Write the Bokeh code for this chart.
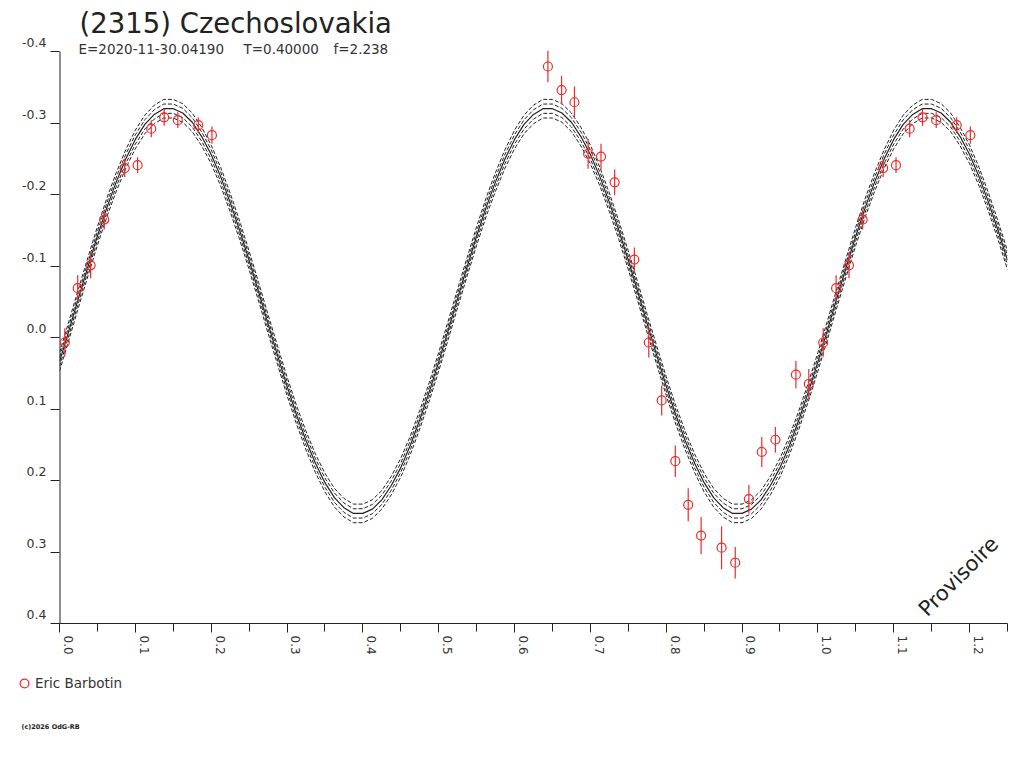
import math
from bokeh.plotting import figure
from bokeh.layouts import column
from bokeh.models import (Range1d, FixedTicker, PrintfTickFormatter, Label,
                          Legend, LegendItem, ColumnDataSource)
from bokeh.embed import file_html
from bokeh.resources import INLINE

# ---------------- data ----------------
title_text = "(2315) Czechoslovakia"
sub_epoch = "E=2020-11-30.04190"
sub_period = "T=0.40000"
sub_f = "f=2.238"
observer = "Eric Barbotin"
stamp = "Provisoire"
copyright_text = "(c)2026 OdG-RB"

x_ticks = [0.0, 0.1, 0.2, 0.3, 0.4, 0.5, 0.6, 0.7, 0.8, 0.9, 1.0, 1.1, 1.2]
x_minor = [0.05, 0.15, 0.25, 0.35, 0.45, 0.55, 0.65, 0.75, 0.85, 0.95, 1.05, 1.15, 1.25]
y_ticks = [-0.4, -0.3, -0.2, -0.1, 0.0, 0.1, 0.2, 0.3, 0.4]

# fitted light curve, phase step 0.0125 over 0..1
curve_phase = [round(i * 0.0125, 4) for i in range(81)]
curve_mag = [
    0.034, -0.010, -0.055, -0.099, -0.142, -0.182, -0.218, -0.250, -0.277, -0.298,
    -0.312, -0.320, -0.320, -0.314, -0.301, -0.281, -0.256, -0.225, -0.189, -0.150,
    -0.108, -0.064, -0.019, 0.025, 0.068, 0.108, 0.144, 0.176, 0.203, 0.224,
    0.238, 0.246, 0.246, 0.240, 0.227, 0.207, 0.182, 0.151, 0.115, 0.076,
    0.034, -0.010, -0.055, -0.099, -0.142, -0.182, -0.218, -0.250, -0.277, -0.298,
    -0.312, -0.320, -0.320, -0.314, -0.301, -0.281, -0.256, -0.225, -0.189, -0.150,
    -0.108, -0.064, -0.019, 0.025, 0.068, 0.108, 0.144, 0.176, 0.203, 0.224,
    0.238, 0.246, 0.246, 0.240, 0.227, 0.207, 0.182, 0.151, 0.115, 0.076,
    0.034,
]
band_offsets = [-0.013, -0.0065, 0.0065, 0.013]

# observations
obs_phase = [0.007, 0.024, 0.041, 0.059, 0.086, 0.103, 0.121, 0.138, 0.156, 0.183,
             0.201, 0.644, 0.662, 0.679, 0.697, 0.714, 0.732, 0.758, 0.777, 0.794,
             0.812, 0.829, 0.846, 0.873, 0.891, 0.909, 0.926, 0.944, 0.971, 0.988]
obs_mag = [0.007, -0.069, -0.101, -0.165, -0.237, -0.241, -0.292, -0.308, -0.304, -0.297,
           -0.283, -0.379, -0.346, -0.329, -0.257, -0.253, -0.217, -0.109, 0.007, 0.088,
           0.173, 0.234, 0.277, 0.294, 0.315, 0.226, 0.160, 0.143, 0.052, 0.065]
obs_err = [0.020, 0.018, 0.018, 0.014, 0.013, 0.011, 0.012, 0.012, 0.011, 0.011,
           0.012, 0.022, 0.020, 0.022, 0.021, 0.018, 0.018, 0.017, 0.021, 0.021,
           0.022, 0.023, 0.026, 0.030, 0.022, 0.020, 0.021, 0.018, 0.019, 0.021]

X_MAX = 1.25
Y_MIN, Y_MAX = -0.4, 0.4

# ---------------- derived (phase wrap) ----------------
line_x = list(curve_phase) + [1.0 + ph for ph in curve_phase[1:] if 1.0 + ph <= X_MAX + 1e-9]
line_y = list(curve_mag) + [m for ph, m in zip(curve_phase[1:], curve_mag[1:]) if 1.0 + ph <= X_MAX + 1e-9]

px, py, pe = [], [], []
for ph, m, e in zip(obs_phase, obs_mag, obs_err):
    for shift in (0.0, 1.0):
        if 0.0 <= ph + shift <= X_MAX:
            px.append(ph + shift)
            py.append(m)
            pe.append(e)
obs_src = ColumnDataSource(dict(x=px, y=py, lo=[a - b for a, b in zip(py, pe)],
                                hi=[a + b for a, b in zip(py, pe)]))

# ---------------- layout constants ----------------
FONT = "DejaVu Sans"
INK = "#222222"
TXT = "#333333"
RED = "#ee2a2a"

W = 1008
FRAME_L = 59          # px of phase 0
FRAME_TOP_TICK = 51   # px of -0.4
PX_X = 758.4          # px per phase unit
PX_Y = 715.0          # px per magnitude unit
MAIN_H = 660
BOT = 37
LOW_H = 92


def dx(ref_x):
    return (ref_x - FRAME_L) / PX_X


def dy(ref_y):
    return Y_MIN + (ref_y - FRAME_TOP_TICK) / PX_Y


y_top = dy(0)

# ---------------- main figure ----------------
p = figure(width=W, height=MAIN_H, output_backend="svg", toolbar_location=None,
           x_range=Range1d(0, X_MAX), y_range=Range1d(Y_MAX, y_top),
           min_border_left=FRAME_L, min_border_right=1, min_border_top=0,
           min_border_bottom=BOT)
p.outline_line_color = None
p.grid.visible = False
p.background_fill_color = "white"
p.border_fill_color = "white"

xa = p.xaxis[0]
xa.ticker = FixedTicker(ticks=x_ticks, minor_ticks=x_minor)
xa.formatter = PrintfTickFormatter(format="%.1f\n")
xa.major_label_orientation = -math.pi / 2
xa.major_tick_in = 0
xa.major_tick_out = 9
xa.minor_tick_in = 0
xa.minor_tick_out = 8
xa.axis_line_color = INK
xa.major_tick_line_color = INK
xa.minor_tick_line_color = INK
xa.major_label_text_font = FONT
xa.major_label_text_font_size = "12px"
xa.major_label_text_color = TXT
xa.major_label_standoff = 3

ya = p.yaxis[0]
ya.ticker = FixedTicker(ticks=y_ticks)
ya.formatter = PrintfTickFormatter(format="%.1f\n")
ya.major_tick_in = 0
ya.major_tick_out = 9
ya.minor_tick_out = 0
ya.minor_tick_in = 0
ya.axis_line_color = None
ya.major_tick_line_color = INK
ya.major_label_text_font = FONT
ya.major_label_text_font_size = "12.5px"
ya.major_label_text_color = TXT
ya.major_label_standoff = 4

# visible part of the y axis line (only over the labelled range)
p.segment(x0=[0.0], y0=[Y_MIN], x1=[0.0], y1=[Y_MAX], line_color=INK, line_width=2)

# model curves
for off in band_offsets:
    p.line(line_x, [v + off for v in line_y], line_color=INK, line_width=1,
           line_dash="4 2")
p.line(line_x, line_y, line_color=INK, line_width=1.2)

# observations
p.segment(x0="x", y0="lo", x1="x", y1="hi", source=obs_src, line_color=RED,
          line_width=1.2)
p.scatter(x="x", y="y", source=obs_src, marker="circle", size=9,
          fill_color=None, line_color=RED, line_width=1.2)

# texts in the main figure
p.add_layout(Label(x=dx(79), y=dy(22), text=title_text, text_font=FONT,
                   text_font_size="27.5px", text_color=INK, text_align="left",
                   text_baseline="alphabetic"))
for tx, t in ((78, sub_epoch), (243, sub_period), (333, sub_f)):
    p.add_layout(Label(x=dx(tx), y=dy(48), text=t, text_font=FONT,
                       text_font_size="13.5px", text_color=TXT, text_align="left",
                       text_baseline="alphabetic"))
p.add_layout(Label(x=dx(958), y=dy(576), text=stamp, text_font=FONT,
                   text_font_size="21px", text_color=INK, text_align="center",
                   text_baseline="middle", angle=math.pi / 4))

# ---------------- lower strip: legend + copyright ----------------
q = figure(width=W, height=LOW_H, output_backend="svg", toolbar_location=None,
           x_range=Range1d(0, W), y_range=Range1d(LOW_H, 0),
           x_axis_type=None, y_axis_type=None,
           min_border_left=0, min_border_right=0, min_border_top=0,
           min_border_bottom=0)
q.outline_line_color = None
q.background_fill_color = "white"
q.border_fill_color = "white"

for fig in (p, q):
    try:
        fig.frame_align = False
    except Exception:
        pass

# legend swatch renderer (no visible point; only its style is used)
legend_marker = q.scatter(x=[float("nan")], y=[float("nan")], marker="circle",
                          size=9, fill_color=None, line_color=RED, line_width=1.2)
legend = Legend(items=[LegendItem(label=observer, renderers=[legend_marker])],
                location=(13, LOW_H - (672 - MAIN_H) - 22), orientation="vertical",
                glyph_width=22, glyph_height=22, label_standoff=0,
                padding=0, margin=0, spacing=0,
                border_line_color=None, background_fill_alpha=0,
                label_text_font=FONT, label_text_font_size="13.5px",
                label_text_color=TXT)
q.add_layout(legend)

q.add_layout(Label(x=21, y=726 - MAIN_H, text=copyright_text, text_font=FONT,
                   text_font_size="6.5px", text_font_style="bold", text_color=INK,
                   text_align="left", text_baseline="middle"))

page = column(p, q, spacing=0)
open("out.html", "w").write(file_html(page, INLINE))
